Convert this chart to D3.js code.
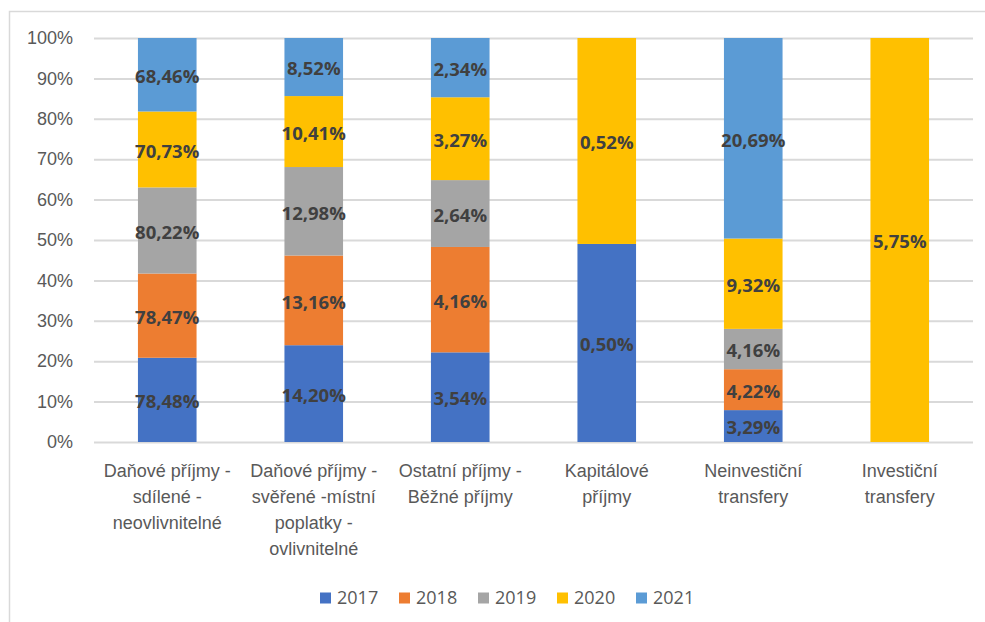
<!DOCTYPE html>
<html>
<head>
<meta charset="utf-8">
<script src="https://cdn.jsdelivr.net/npm/d3@7"></script>
<style>
  body { margin: 0; background: #fff; }
  svg { font-family: "Open Sans", "Liberation Sans", sans-serif; }
</style>
</head>
<body>
<svg></svg>
<script>
let categories = ["c1", "c2", "c3", "c4", "c5", "c6"]
let categoryLines = [
    ["Daňové příjmy -", "sdílené -", "neovlivnitelné"],
    ["Daňové příjmy -", "svěřené -místní", "poplatky -", "ovlivnitelné"],
    ["Ostatní příjmy -", "Běžné příjmy"],
    ["Kapitálové", "příjmy"],
    ["Neinvestiční", "transfery"],
    ["Investiční", "transfery"]
]
let years = ["2017", "2018", "2019", "2020", "2021"]
let colors = ["#4472C4", "#ED7D31", "#A5A5A5", "#FFC000", "#5B9BD5"]

// values in percent, as printed on the segments
let v2017 = [78.48, 14.20, 3.54, 0.50, 3.29, 0]
let v2018 = [78.47, 13.16, 4.16, 0, 4.22, 0]
let v2019 = [80.22, 12.98, 2.64, 0, 4.16, 0]
let v2020 = [70.73, 10.41, 3.27, 0.52, 9.32, 5.75]
let v2021 = [68.46, 8.52, 2.34, 0, 20.69, 0]
let yTicks = [0, 0.1, 0.2, 0.3, 0.4, 0.5, 0.6, 0.7, 0.8, 0.9, 1]

let series = [v2017, v2018, v2019, v2020, v2021]

let width = 985
let height = 622
let plotLeft = 94
let plotRight = 973
let plotTop = 38
let plotBottom = 442

let svg = d3.select("svg").attr("width", width).attr("height", height)

// frame (only top & left edge visible in the picture)
svg.append("path")
   .attr("d", "M9.5," + height + " V11.5 H" + width)
   .attr("fill", "none")
   .attr("stroke", "#d9d9d9")
   .attr("stroke-width", 1.5)

let table = categories.map((c, i) => {
    let row = { cat: c }
    years.forEach((y, j) => { row[y] = series[j][i] })
    return row
})

let stacked = d3.stack().keys(years).offset(d3.stackOffsetExpand)(table)

let xScale = d3.scaleBand().domain(categories).range([plotLeft, plotRight]).paddingInner(0.6).paddingOuter(0.3)
let yScale = d3.scaleLinear().domain([0, 1]).range([plotBottom, plotTop])

// gridlines + y labels
let yAxis = d3.axisLeft(yScale)
    .tickValues(yTicks)
    .tickFormat(d3.format(".0%"))
    .tickSize(-(plotRight - plotLeft))
    .tickPadding(21)

let gy = svg.append("g").attr("transform", "translate(" + plotLeft + ",0)").call(yAxis)
gy.select(".domain").remove()
gy.selectAll("line").attr("stroke", "#d9d9d9").attr("stroke-width", 2)
gy.selectAll("text").attr("fill", "#595959").style("font-size", "18px")

// bars
let groups = svg.selectAll("g.layer")
   .data(stacked)
   .enter()
   .append("g")
   .attr("class", "layer")
   .attr("fill", (d, i) => colors[i])

groups.selectAll("rect")
   .data(d => d)
   .enter()
   .append("rect")
   .attr("x", d => xScale(d.data.cat))
   .attr("width", xScale.bandwidth())
   .attr("y", d => yScale(d[1]))
   .attr("height", d => yScale(d[0]) - yScale(d[1]))

// data labels
stacked.forEach((layer, j) => {
    svg.append("g").selectAll("text")
       .data(layer.filter(d => d.data[years[j]] > 0))
       .enter()
       .append("text")
       .attr("x", d => xScale(d.data.cat) + xScale.bandwidth() / 2)
       .attr("y", d => (yScale(d[0]) + yScale(d[1])) / 2)
       .attr("dy", "0.45em")
       .attr("text-anchor", "middle")
       .attr("fill", "#404040")
       .style("font-size", "18.5px")
       .style("font-weight", "bold")
       .text(d => d3.format(".2f")(d.data[years[j]]).replace(".", ",") + "%")
})

// x axis labels
let xAxis = d3.axisBottom(xScale).tickSize(0).tickFormat("")
let gx = svg.append("g").attr("transform", "translate(0," + plotBottom + ")").call(xAxis)
gx.select(".domain").remove()

gx.selectAll(".tick").each(function (d, i) {
    let t = d3.select(this).append("text")
        .attr("fill", "#595959")
        .attr("text-anchor", "middle")
        .style("font-size", "18px")
    categoryLines[i].forEach((line, k) => {
        t.append("tspan").attr("x", 0).attr("y", 35 + k * 26).text(line)
    })
})

// legend
let legend = svg.append("g").attr("transform", "translate(320,598)")
years.forEach((y, i) => {
    let item = legend.append("g").attr("transform", "translate(" + (i * 79) + ",0)")
    item.append("rect").attr("x", 0).attr("y", -5.5).attr("width", 11).attr("height", 11).attr("fill", colors[i])
    item.append("text").attr("x", 17).attr("y", 0).attr("dy", "0.35em")
        .attr("fill", "#595959").style("font-size", "18px").text(y)
})
</script>
</body>
</html>
